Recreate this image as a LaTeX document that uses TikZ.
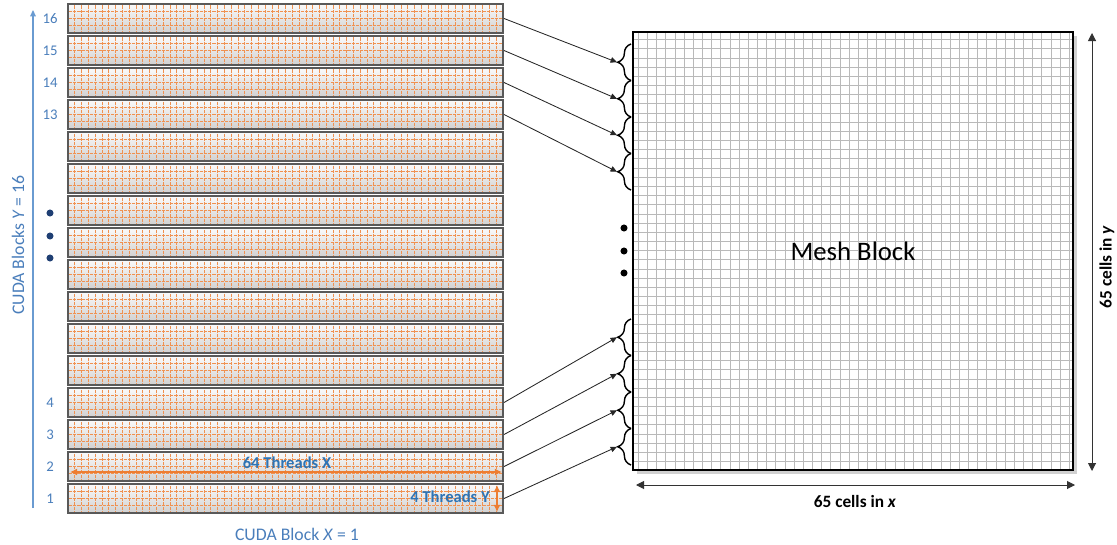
\documentclass[tikz,border=0pt]{standalone}
\usepackage{fontspec}
\setmainfont{Carlito}
\usetikzlibrary{arrows.meta,positioning,calc,decorations.pathreplacing}
\definecolor{cudablue}{HTML}{4A7EBB}
\definecolor{axisblue}{HTML}{6A9BD1}
\definecolor{thrblue}{HTML}{2E74B5}
\definecolor{throrange}{HTML}{ED7D31}
\definecolor{rowedge}{HTML}{595959}
\definecolor{dotblue}{HTML}{1F3F73}

\begin{document}
\begin{tikzpicture}[x=0.025cm,y=-0.025cm,>={Triangle[length=1.6mm,width=1.4mm]},
  rowbox/.style={draw=rowedge,line width=1.4pt,top color=gray!4,bottom color=gray!36,
    minimum width=10.875cm,minimum height=0.71cm,inner sep=0pt},
  thrline/.style={throrange!85!white,line width=0.55pt,dash pattern=on 2.2pt off 0.8pt},
  cellline/.style={gray!55,line width=0.6pt},
  rownum/.style={text=cudablue,font=\fontsize{10.5}{12}\selectfont},
  bracebox/.style={decorate,decoration={brace,amplitude=0.33cm},line width=1pt},
  linkarrow/.style={->,black!85,line width=0.6pt},
  dimarrow/.style={{Triangle[length=2mm,width=2mm]}-{Triangle[length=2mm,width=2mm]},black!80,line width=0.7pt},
  thrarrow/.style={{Latex[length=1.8mm,width=1.8mm]}-{Latex[length=1.8mm,width=1.8mm]},throrange,line width=1.6pt},
  thrlabel/.style={text=thrblue,font=\bfseries\fontsize{11.8}{14}\selectfont,inner sep=1pt},
  dimlabel/.style={font=\bfseries\fontsize{12.3}{14}\selectfont,inner sep=1pt},
  cudalabel/.style={text=cudablue,font=\fontsize{12.6}{15}\selectfont,inner sep=1pt}]
  \useasboundingbox (0,0) rectangle (1117,545);
  % CUDA blocks, one row of 64 x 4 threads each
  \foreach \i in {1,...,16} {
    \pgfmathsetmacro{\ry}{498.5-32*(\i-1)}
    \node[rowbox] (r\i) at (285.5,\ry) {};
    \foreach \k in {1,...,63} \draw[thrline] (68+\k*6.797,\ry-13) -- (68+\k*6.797,\ry+13);
    \foreach \j in {-1,0,1} \draw[thrline] (69,\ry+\j*7.1) -- (502,\ry+\j*7.1);
  }
  \foreach \i in {1,2,3,4,13,14,15,16} {
    \pgfmathsetmacro{\ry}{498.5-32*(\i-1)}
    \node[rownum] (n\i) at (50,\ry) {\i};
  }
  \foreach \d in {213,236,258} \fill[dotblue] (50,\d) circle (2.5pt);
  \coordinate (ax0) at (33,508);
  \coordinate (ax1) at (33,10);
  \draw[->,axisblue,line width=0.8pt] (ax0) -- (ax1);
  \node[cudalabel,rotate=90] (ylab) at (18,245) {CUDA Blocks \textit{Y} = 16};
  \node[cudalabel] (xlab) at (297,534) {CUDA Block \textit{X} = 1};
  % thread counts
  \coordinate (tx0) at (70,472);
  \coordinate (tx1) at (502,472);
  \draw[thrarrow] (tx0) -- (tx1);
  \node[thrlabel] (txl) at (287,463) {64 Threads X};
  \coordinate (ty0) at (497,485);
  \coordinate (ty1) at (497,512);
  \draw[thrarrow] (ty0) -- (ty1);
  \node[thrlabel] (tyl) at (450,497) {4 Threads Y};
  % mesh block
  \fill[black!18] (637,36) rectangle (1077,474);
  \fill[white] (633,32) rectangle (1073,470);
  \foreach \k in {0,...,47} \draw[cellline] (638.3+\k*9.17,32) -- (638.3+\k*9.17,470);
  \foreach \k in {0,...,46} \draw[cellline] (633,39.7+\k*9.17) -- (1073,39.7+\k*9.17);
  \node[draw,line width=1.5pt,minimum width=11cm,minimum height=10.95cm,inner sep=0pt,
    font=\fontsize{19}{22}\selectfont] (mesh) at (853,251) {Mesh Block};
  \foreach \d in {228,251,273} \fill[black] (624,\d) circle (2.5pt);
  % braces and links
  \foreach \b/\yy in {16/44,15/80.5,14/117,13/153.5,4/319,3/355.5,2/392,1/428.5} {
    \draw[bracebox] (631,\yy+36.5) -- (631,\yy);
    \coordinate (b\b) at (617,\yy+18.25);
  }
  \foreach \i in {16,15,14,13,4,3,2,1} \draw[linkarrow] (r\i.east) -- (b\i);
  % mesh size
  \coordinate (dx0) at (636,485);
  \coordinate (dx1) at (1075,485);
  \draw[dimarrow] (dx0) -- (dx1);
  \node[dimlabel] (dxl) at (855,501) {65 cells in \textit{x}};
  \coordinate (dy0) at (1092,33);
  \coordinate (dy1) at (1092,471);
  \draw[dimarrow] (dy0) -- (dy1);
  \node[dimlabel,rotate=90] (dyl) at (1107,267) {65 cells in \textit{y}};
\end{tikzpicture}
\end{document}
